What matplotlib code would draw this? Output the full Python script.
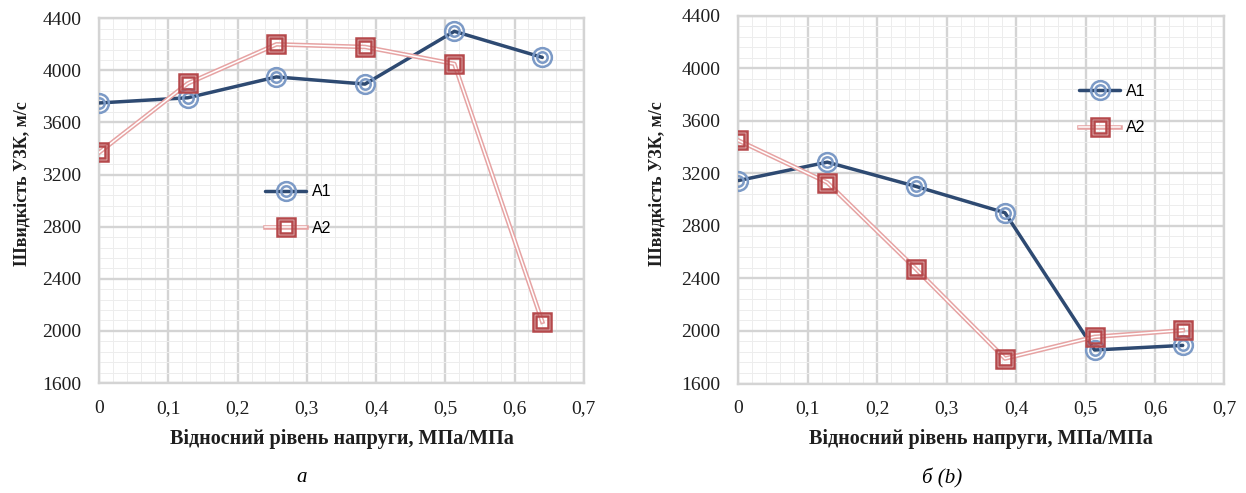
import matplotlib
matplotlib.use("Agg")
import matplotlib.pyplot as plt
from matplotlib.ticker import MultipleLocator, FixedLocator, FixedFormatter

# ---- data ----
stress = [0.0, 0.128, 0.256, 0.384, 0.513, 0.64]
a_A1 = [3750, 3790, 3950, 3895, 4300, 4100]
a_A2 = [3370, 3900, 4200, 4180, 4050, 2070]
b_A1 = [3145, 3285, 3100, 2900, 1855, 1890]
b_A2 = [3450, 3130, 2470, 1790, 1955, 2005]
series_names = ["A1", "A2"]
x_ticks = [0, 0.1, 0.2, 0.3, 0.4, 0.5, 0.6, 0.7]
x_tick_labels = ["0", "0,1", "0,2", "0,3", "0,4", "0,5", "0,6", "0,7"]
y_ticks = [1600, 2000, 2400, 2800, 3200, 3600, 4000, 4400]
y_label = "Швидкість УЗК, м/с"
x_label = "Відносний рівень напруги, МПа/МПа"
captions = ["а", "б (b)"]

SERIF = ["Liberation Serif", "DejaVu Serif"]
SANS = ["Liberation Sans", "DejaVu Sans"]

A1_LINE = "#2E4A72"
A1_MARK = "#7C9AC6"
A2_LINE = "#E6A3A3"
A2_MARK = "#B5484B"

W, H = 1246, 493
fig = plt.figure(figsize=(W / 100, H / 100), dpi=100)


def draw_series(ax, x, y, kind):
    if kind == "A1":
        ln, = ax.plot(x, y, color=A1_LINE, lw=2.5, zorder=3, solid_capstyle="round")
        m1, = ax.plot(x, y, ls="none", marker="o", ms=13.5, mfc="none",
                      mec=A1_MARK, mew=1.8, zorder=4)
        m2, = ax.plot(x, y, ls="none", marker="o", ms=7.5, mfc="none",
                      mec=A1_MARK, mew=1.8, zorder=4)
        return (ln, m1, m2)
    else:
        ln, = ax.plot(x, y, color=A2_LINE, lw=3.3, zorder=3)
        ln2, = ax.plot(x, y, color="white", lw=1.1, zorder=3)
        m1, = ax.plot(x, y, ls="none", marker="s", ms=13.5, mfc="none",
                      mec=A2_MARK, mew=1.8, zorder=4)
        m2, = ax.plot(x, y, ls="none", marker="s", ms=8, mfc="none",
                      mec=A2_MARK, mew=1.8, zorder=4)
        return (ln, ln2, m1, m2)


def setup(ax, box, A1, A2, leg_anchor, ylab_px):
    L, T, R, B = box
    ax.set_xlim(0, 0.7)
    ax.set_ylim(1600, 4400)
    ax.xaxis.set_major_locator(FixedLocator(x_ticks))
    ax.xaxis.set_major_formatter(FixedFormatter(x_tick_labels))
    ax.yaxis.set_major_locator(FixedLocator(y_ticks))
    ax.xaxis.set_minor_locator(MultipleLocator(0.02))
    ax.yaxis.set_minor_locator(MultipleLocator(80))
    ax.grid(which="major", color="#D4D4D4", lw=1.7, zorder=1)
    ax.grid(which="minor", color="#EDEDED", lw=0.7, zorder=0)
    ax.set_axisbelow(True)
    for s in ax.spines.values():
        s.set_color("#D4D4D4")
        s.set_linewidth(1.7)
    ax.tick_params(which="both", length=0)
    ax.tick_params(axis="x", pad=12)
    ax.tick_params(axis="y", pad=13)
    for lab in ax.get_xticklabels() + ax.get_yticklabels():
        lab.set_fontfamily(SERIF)
        lab.set_fontsize(14)
        lab.set_color("#1E1E1E")
    h1 = draw_series(ax, stress, A1, "A1")
    h2 = draw_series(ax, stress, A2, "A2")
    ax.legend([h1, h2], series_names, loc="center left",
              bbox_to_anchor=leg_anchor, frameon=False,
              handlelength=2.6, handletextpad=0.35, labelspacing=1.35,
              prop={"family": SANS, "size": 11.5})
    ax.set_ylabel(y_label, fontfamily=SERIF, fontweight="bold", fontsize=13,
                  va="center", color="#1E1E1E")
    ax.yaxis.set_label_coords((ylab_px[0] - L) / (R - L), (B - ylab_px[1]) / (B - T))
    ax.set_xlabel(x_label, fontfamily=SERIF, fontweight="bold", fontsize=14.5,
                  va="center", color="#1E1E1E")
    ax.xaxis.set_label_coords(0.5, (B - 439) / (B - T))


def add_axes_px(L, T, R, B):
    return fig.add_axes([L / W, (H - B) / H, (R - L) / W, (B - T) / H])


box1 = (99.2, 18.3, 583.8, 383.0)
ax1 = add_axes_px(*box1)
setup(ax1, box1, a_A1, a_A2, (0.312, 0.474), (22, 184))

box2 = (738.4, 15.7, 1224.4, 383.5)
ax2 = add_axes_px(*box2)
setup(ax2, box2, b_A1, b_A2, (0.671, 0.745), (657, 184))

fig.text(302 / W, 1 - 478 / H, captions[0], ha="center", va="center",
         fontfamily=SERIF, fontstyle="italic", fontsize=15)
fig.text(942 / W, 1 - 478 / H, captions[1], ha="center", va="center",
         fontfamily=SERIF, fontstyle="italic", fontsize=15)

fig.savefig("out.png", dpi=100, facecolor="white")
